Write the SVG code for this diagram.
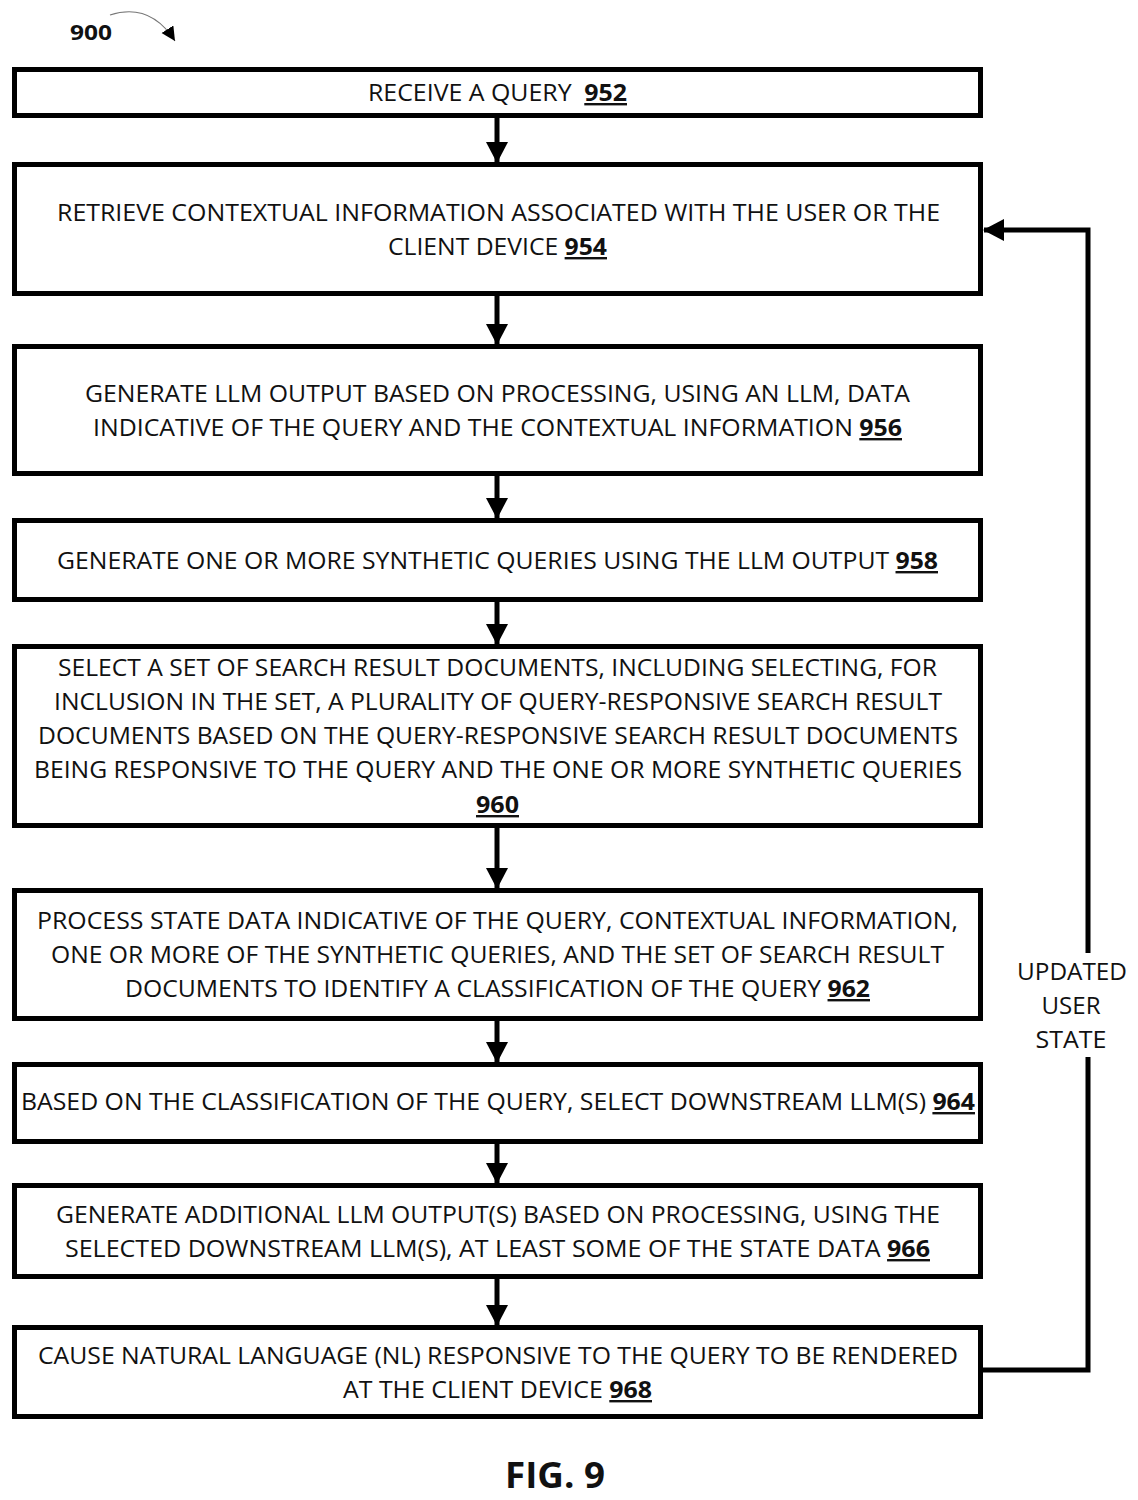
<svg xmlns="http://www.w3.org/2000/svg" width="1138" height="1500" viewBox="0 0 1138 1500">
<style>
.box{fill:#fff;stroke:#000;stroke-width:5}
.t{font-family:"Open Sans","Liberation Sans",sans-serif;font-size:24px;fill:#111;text-anchor:middle}
.n{font-weight:bold;text-decoration:underline}
.c{stroke:#000;stroke-width:5;fill:none}
</style>
<defs>
<marker id="ah" markerUnits="userSpaceOnUse" markerWidth="24" markerHeight="24" refX="20" refY="11" orient="auto">
<path d="M0,0 L21,11 L0,22 z" fill="#000"/>
</marker>
<marker id="ah2" markerUnits="userSpaceOnUse" markerWidth="16" markerHeight="16" refX="14" refY="7" orient="auto">
<path d="M0,0 L14,7 L0,14 z" fill="#000"/>
</marker>
</defs>
<rect width="1138" height="1500" fill="#fff"/>
<text x="70" y="40" font-family="'Open Sans','Liberation Sans',sans-serif" font-size="22" font-weight="bold" fill="#111" textLength="42" lengthAdjust="spacingAndGlyphs">900</text>
<path d="M110,15 Q150,2 175,41" fill="none" stroke="#777" stroke-width="1.2" marker-end="url(#ah2)"/>
<g id="connectors">
<line class="c" x1="497" y1="118" x2="497" y2="162" marker-end="url(#ah)"/>
<line class="c" x1="497" y1="296" x2="497" y2="344" marker-end="url(#ah)"/>
<line class="c" x1="497" y1="476" x2="497" y2="518" marker-end="url(#ah)"/>
<line class="c" x1="497" y1="602" x2="497" y2="644" marker-end="url(#ah)"/>
<line class="c" x1="497" y1="827" x2="497" y2="888" marker-end="url(#ah)"/>
<line class="c" x1="497" y1="1021" x2="497" y2="1062" marker-end="url(#ah)"/>
<line class="c" x1="497" y1="1143" x2="497" y2="1183" marker-end="url(#ah)"/>
<line class="c" x1="497" y1="1279" x2="497" y2="1325" marker-end="url(#ah)"/>
<polyline class="c" points="982,1370 1088,1370 1088,1057"/>
<polyline class="c" points="1088,953 1088,230 984,230" marker-end="url(#ah)"/>
<text class="t" x="1072" y="980" textLength="110" lengthAdjust="spacingAndGlyphs">UPDATED</text>
<text class="t" x="1071" y="1014" textLength="59" lengthAdjust="spacingAndGlyphs">USER</text>
<text class="t" x="1071" y="1048" textLength="71" lengthAdjust="spacingAndGlyphs">STATE</text>
</g>
<g id="n952">
<rect class="box" x="14.5" y="69.5" width="966" height="46"/>
<text class="t" x="497.5" y="101" textLength="259" lengthAdjust="spacingAndGlyphs">RECEIVE A QUERY <tspan class="n" dx="6">952</tspan></text>
</g>
<g id="n954">
<rect class="box" x="14.5" y="164.5" width="966" height="129"/>
<text class="t" x="498.5" y="221" textLength="883" lengthAdjust="spacingAndGlyphs">RETRIEVE CONTEXTUAL INFORMATION ASSOCIATED WITH THE USER OR THE</text>
<text class="t" x="497.5" y="255" textLength="219" lengthAdjust="spacingAndGlyphs">CLIENT DEVICE <tspan class="n">954</tspan></text>
</g>
<g id="n956">
<rect class="box" x="14.5" y="346.5" width="966" height="127"/>
<text class="t" x="497.5" y="402" textLength="825" lengthAdjust="spacingAndGlyphs">GENERATE LLM OUTPUT BASED ON PROCESSING, USING AN LLM, DATA</text>
<text class="t" x="497.5" y="436" textLength="809" lengthAdjust="spacingAndGlyphs">INDICATIVE OF THE QUERY AND THE CONTEXTUAL INFORMATION <tspan class="n">956</tspan></text>
</g>
<g id="n958">
<rect class="box" x="14.5" y="520.5" width="966" height="79"/>
<text class="t" x="497.5" y="569" textLength="881" lengthAdjust="spacingAndGlyphs">GENERATE ONE OR MORE SYNTHETIC QUERIES USING THE LLM OUTPUT <tspan class="n">958</tspan></text>
</g>
<g id="n960">
<rect class="box" x="14.5" y="646.5" width="966" height="179"/>
<text class="t" x="497.5" y="676" textLength="879" lengthAdjust="spacingAndGlyphs">SELECT A SET OF SEARCH RESULT DOCUMENTS, INCLUDING SELECTING, FOR</text>
<text class="t" x="498" y="710" textLength="888" lengthAdjust="spacingAndGlyphs">INCLUSION IN THE SET, A PLURALITY OF QUERY-RESPONSIVE SEARCH RESULT</text>
<text class="t" x="498" y="744" textLength="920" lengthAdjust="spacingAndGlyphs">DOCUMENTS BASED ON THE QUERY-RESPONSIVE SEARCH RESULT DOCUMENTS</text>
<text class="t" x="498" y="778" textLength="928" lengthAdjust="spacingAndGlyphs">BEING RESPONSIVE TO THE QUERY AND THE ONE OR MORE SYNTHETIC QUERIES</text>
<text class="t" x="497.5" y="813" textLength="43" lengthAdjust="spacingAndGlyphs"><tspan class="n">960</tspan></text>
</g>
<g id="n962">
<rect class="box" x="14.5" y="890.5" width="966" height="128"/>
<text class="t" x="497.5" y="929" textLength="921" lengthAdjust="spacingAndGlyphs">PROCESS STATE DATA INDICATIVE OF THE QUERY, CONTEXTUAL INFORMATION,</text>
<text class="t" x="497.5" y="963" textLength="893" lengthAdjust="spacingAndGlyphs">ONE OR MORE OF THE SYNTHETIC QUERIES, AND THE SET OF SEARCH RESULT</text>
<text class="t" x="497.5" y="997" textLength="745" lengthAdjust="spacingAndGlyphs">DOCUMENTS TO IDENTIFY A CLASSIFICATION OF THE QUERY <tspan class="n">962</tspan></text>
</g>
<g id="n964">
<rect class="box" x="14.5" y="1064.5" width="966" height="77"/>
<text class="t" x="498" y="1110" textLength="954" lengthAdjust="spacingAndGlyphs">BASED ON THE CLASSIFICATION OF THE QUERY, SELECT DOWNSTREAM LLM(S) <tspan class="n">964</tspan></text>
</g>
<g id="n966">
<rect class="box" x="14.5" y="1185.5" width="966" height="91"/>
<text class="t" x="498" y="1223" textLength="884" lengthAdjust="spacingAndGlyphs">GENERATE ADDITIONAL LLM OUTPUT(S) BASED ON PROCESSING, USING THE</text>
<text class="t" x="497.5" y="1257" textLength="865" lengthAdjust="spacingAndGlyphs">SELECTED DOWNSTREAM LLM(S), AT LEAST SOME OF THE STATE DATA <tspan class="n">966</tspan></text>
</g>
<g id="n968">
<rect class="box" x="14.5" y="1327.5" width="966" height="89"/>
<text class="t" x="498" y="1364" textLength="920" lengthAdjust="spacingAndGlyphs">CAUSE NATURAL LANGUAGE (NL) RESPONSIVE TO THE QUERY TO BE RENDERED</text>
<text class="t" x="497.5" y="1398" textLength="309" lengthAdjust="spacingAndGlyphs">AT THE CLIENT DEVICE <tspan class="n">968</tspan></text>
</g>
<text x="555" y="1488" font-family="'Open Sans','Liberation Sans',sans-serif" font-size="36" font-weight="bold" fill="#111" text-anchor="middle" textLength="100" lengthAdjust="spacingAndGlyphs">FIG. 9</text>
</svg>
